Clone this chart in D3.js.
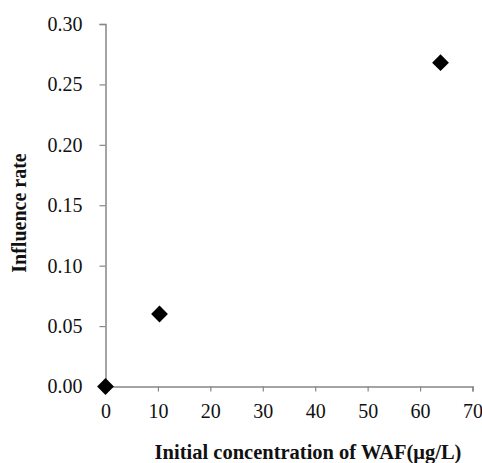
<!DOCTYPE html>
<html>
<head>
<meta charset="utf-8">
<script src="https://cdn.jsdelivr.net/npm/d3@7"></script>
<style>
  body { margin: 0; background: #fff; }
  svg { display: block; }
  text { font-family: 'Liberation Serif', 'Times New Roman', serif; }
</style>
</head>
<body>
<svg id="vis-svg" width="482" height="463"></svg>
<script>
// data
const concentration = [0, 10.3, 63.9];
const influenceRate = [0, 0.060, 0.268];
const xTicks = [0, 10, 20, 30, 40, 50, 60, 70];
const yTicks = [0, 0.05, 0.10, 0.15, 0.20, 0.25, 0.30];

const svg = d3.select('#vis-svg');
const font = 'Liberation Serif';
const axisColor = '#868686';

// plot area
const plotLeft = 105.5, plotRight = 472.5, plotTop = 24, plotBottom = 386.5;

const x = d3.scaleLinear().domain([0, 70]).range([plotLeft, plotRight]);
const y = d3.scaleLinear().domain([0, 0.30]).range([plotBottom, plotTop]);

// y axis
const yAxis = svg.append('g')
    .attr('transform', `translate(${plotLeft}, 0)`)
    .call(d3.axisLeft(y).tickValues(yTicks).tickFormat(d3.format('.2f')).tickSize(6).tickPadding(17));

// x axis
const xAxis = svg.append('g')
    .attr('transform', `translate(0, ${plotBottom})`)
    .call(d3.axisBottom(x).tickValues(xTicks).tickSize(5).tickPadding(12));

[xAxis, yAxis].forEach(g => {
  g.attr('font-family', font).attr('font-size', 20);
  g.select('.domain').attr('stroke', axisColor).attr('stroke-width', 1.5);
  g.selectAll('.tick line').attr('stroke', axisColor).attr('stroke-width', 1.2);
  g.selectAll('.tick text').attr('fill', '#111');
});

// diamonds
const diamond = d3.symbol().type(d3.symbolDiamond2).size(180);
svg.append('g').selectAll('path')
    .data(concentration.map((c, i) => ({ c, r: influenceRate[i] })))
    .enter().append('path')
    .attr('d', diamond)
    .attr('transform', d => `translate(${x(d.c)}, ${y(d.r)})`)
    .attr('fill', '#000');

// axis titles
svg.append('text')
    .attr('x', 308)
    .attr('y', 459)
    .attr('text-anchor', 'middle')
    .attr('font-family', font)
    .attr('font-weight', 'bold')
    .attr('font-size', 20.5)
    .attr('fill', '#111')
    .text('Initial concentration of WAF(μg/L)');

svg.append('text')
    .attr('transform', 'translate(26, 213) rotate(-90)')
    .attr('text-anchor', 'middle')
    .attr('font-family', font)
    .attr('font-weight', 'bold')
    .attr('font-size', 20)
    .attr('fill', '#111')
    .text('Influence rate');
</script>
</body>
</html>
